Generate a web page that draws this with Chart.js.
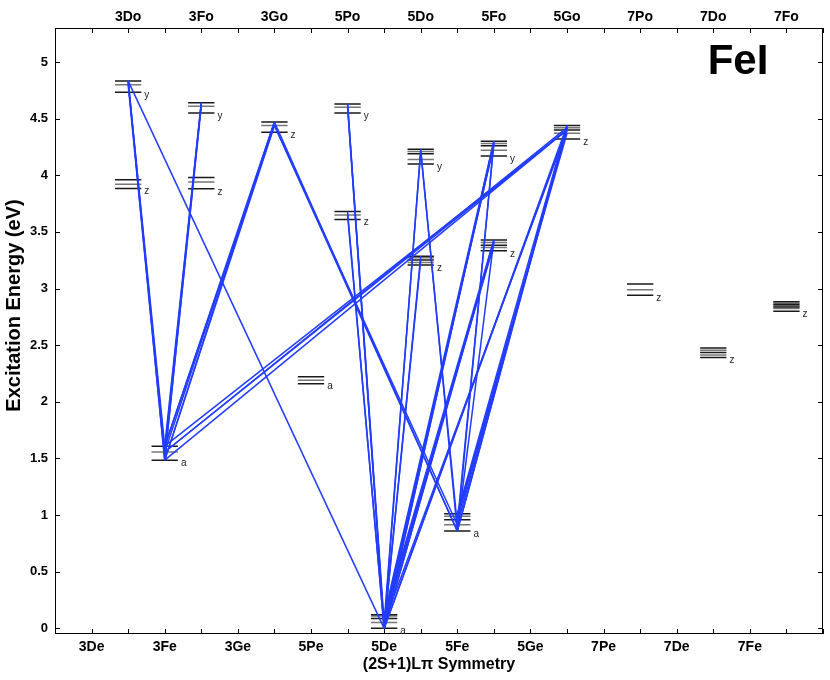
<!DOCTYPE html>
<html>
<head>
<meta charset="utf-8">
<script src="https://cdn.jsdelivr.net/npm/chart.js@4.4.0/dist/chart.umd.min.js"></script>
<style>
  html, body { margin: 0; padding: 0; background: #fff; }
  #wrap { width: 830px; height: 680px; }
</style>
</head>
<body>
<div id="wrap"><canvas id="grotrian" width="830" height="680"></canvas></div>
<script>
// axis labels: even parity terms sit on odd columns (bottom), odd parity on even columns (top)
const bottomLabels = ['3De', '3Fe', '3Ge', '5Pe', '5De', '5Fe', '5Ge', '7Pe', '7De', '7Fe'];
const topLabels = ['3Do', '3Fo', '3Go', '5Po', '5Do', '5Fo', '5Go', '7Po', '7Do', '7Fo'];
const yTicks = [0, 0.5, 1, 1.5, 2, 2.5, 3, 3.5, 4, 4.5, 5];

// terms: id, column, prefix letter, fine-structure level energies (eV)
const termId  = ['a3F', 'y3D', 'z3D', 'y3F', 'z3F', 'z3G', 'a5P', 'y5P', 'z5P', 'a5D',
                 'y5D', 'z5D', 'a5F', 'y5F', 'z5F', 'z5G', 'z7P', 'z7D', 'z7F'];
const termCol = [3, 2, 2, 4, 4, 6, 7, 8, 8, 9, 10, 10, 11, 12, 12, 14, 16, 18, 20];
const termTag = ['a', 'y', 'z', 'y', 'z', 'z', 'a', 'y', 'z', 'a',
                 'y', 'z', 'a', 'y', 'z', 'z', 'z', 'z', 'z'];
const termE = [
  [1.485, 1.557, 1.608],
  [4.733, 4.800, 4.833],
  [3.883, 3.920, 3.960],
  [4.550, 4.610, 4.640],
  [3.880, 3.940, 3.980],
  [4.380, 4.440, 4.470],
  [2.160, 2.190, 2.220],
  [4.550, 4.600, 4.630],
  [3.610, 3.650, 3.680],
  [0.000, 0.052, 0.087, 0.110, 0.121],
  [4.100, 4.140, 4.190, 4.210, 4.230],
  [3.207, 3.230, 3.251, 3.271, 3.286],
  [0.859, 0.915, 0.958, 0.990, 1.011],
  [4.170, 4.220, 4.260, 4.280, 4.300],
  [3.333, 3.363, 3.383, 3.407, 3.428],
  [4.320, 4.370, 4.400, 4.420, 4.440],
  [2.940, 2.990, 3.040],
  [2.391, 2.414, 2.435, 2.456, 2.476],
  [2.800, 2.824, 2.836, 2.848, 2.860, 2.871, 2.883]
];

// transitions: [lower term, level index, upper term, level index]
const transitions = [
  ['a3F', 0, 'y3D', 2], ['a3F', 1, 'y3D', 2], ['a3F', 0, 'y3D', 1], ['a3F', 2, 'y3D', 2],
  ['a3F', 0, 'y3F', 2], ['a3F', 1, 'y3F', 2], ['a3F', 0, 'y3F', 1], ['a3F', 2, 'y3F', 2],
  ['a3F', 0, 'z3G', 2], ['a3F', 1, 'z3G', 2], ['a3F', 2, 'z3G', 1], ['a3F', 0, 'z3G', 1], ['a3F', 2, 'z3G', 2],
  ['a3F', 0, 'z5G', 2], ['a3F', 1, 'z5G', 2], ['a3F', 2, 'z5G', 2], ['a3F', 1, 'z5G', 3],
  ['a5D', 0, 'y3D', 2],
  ['a5F', 0, 'z3G', 2], ['a5F', 0, 'z3G', 1], ['a5F', 1, 'z3G', 1],
  ['a5D', 0, 'y5P', 2], ['a5D', 1, 'y5P', 2], ['a5D', 0, 'y5P', 1],
  ['a5D', 0, 'z5P', 2], ['a5D', 0, 'z5P', 1],
  ['a5D', 0, 'y5D', 4], ['a5D', 1, 'y5D', 3],
  ['a5F', 0, 'y5D', 4], ['a5F', 1, 'y5D', 3],
  ['a5D', 0, 'z5D', 4], ['a5D', 0, 'z5D', 2],
  ['a5D', 0, 'y5F', 4], ['a5D', 1, 'y5F', 3], ['a5D', 2, 'y5F', 2], ['a5D', 0, 'y5F', 3], ['a5D', 3, 'y5F', 4],
  ['a5F', 0, 'y5F', 4], ['a5F', 1, 'y5F', 3],
  ['a5D', 0, 'z5F', 4], ['a5D', 1, 'z5F', 3], ['a5D', 2, 'z5F', 2], ['a5D', 0, 'z5F', 3], ['a5D', 3, 'z5F', 4],
  ['a5F', 0, 'z5F', 4],
  ['a5F', 0, 'z5G', 4], ['a5F', 1, 'z5G', 3], ['a5F', 2, 'z5G', 2], ['a5F', 3, 'z5G', 1], ['a5F', 0, 'z5G', 3], ['a5F', 4, 'z5G', 4],
  ['a5D', 0, 'z5G', 4], ['a5D', 0, 'z5G', 3], ['a5D', 1, 'z5G', 2]
];

const HALF = 0.36; // half length of a level bar, in column units
const FONT = '"Liberation Sans", Arial, sans-serif';

function term(id) {
  const i = termId.indexOf(id);
  return { col: termCol[i], e: termE[i] };
}

// level bars, split into dark and grey sets
const darkLevels = [], greyLevels = [];
termId.forEach((id, i) => {
  termE[i].forEach((e, k) => {
    const target = (k % 2 === 0) ? darkLevels : greyLevels;
    target.push({ x: termCol[i] - HALF, y: e }, { x: termCol[i] + HALF, y: e }, { x: termCol[i], y: null });
  });
});

const lineSets = transitions.map(t => {
  const lo = term(t[0]), up = term(t[2]);
  return {
    data: [{ x: lo.col, y: lo.e[t[1]] }, { x: up.col, y: up.e[t[3]] }],
    showLine: true,
    borderColor: 'rgb(34,60,255)',
    borderWidth: 1.5,
    pointRadius: 0,
    order: 0
  };
});

const levelSets = [
  { data: darkLevels, showLine: true, spanGaps: false, borderColor: '#1a1a1a', borderWidth: 1.5, pointRadius: 0, order: 1 },
  { data: greyLevels, showLine: true, spanGaps: false, borderColor: '#777', borderWidth: 1.5, pointRadius: 0, order: 1 }
];

const colTicks = [];
for (let c = 0; c <= 21; c++) colTicks.push(c);

const decorations = {
  id: 'decorations',
  afterDraw(chart) {
    const ctx = chart.ctx;
    const a = chart.chartArea;
    const xs = chart.scales.x, ys = chart.scales.y;
    ctx.save();
    ctx.strokeStyle = '#000';
    ctx.lineWidth = 1;
    ctx.strokeRect(a.left + 0.5, a.top + 0.5, a.right - a.left - 1, a.bottom - a.top - 1);
    ctx.beginPath();
    colTicks.forEach(c => {
      const px = Math.round(xs.getPixelForValue(c)) + 0.5;
      ctx.moveTo(px, a.bottom); ctx.lineTo(px, a.bottom - 5);
      ctx.moveTo(px, a.top); ctx.lineTo(px, a.top + 5);
    });
    yTicks.forEach(v => {
      const py = Math.round(ys.getPixelForValue(v)) + 0.5;
      ctx.moveTo(a.left, py); ctx.lineTo(a.left + 5, py);
      ctx.moveTo(a.right, py); ctx.lineTo(a.right - 5, py);
    });
    ctx.stroke();

    // term prefix letters
    ctx.fillStyle = '#222';
    ctx.font = '10px ' + FONT;
    ctx.textAlign = 'left';
    ctx.textBaseline = 'middle';
    termId.forEach((id, i) => {
      const px = xs.getPixelForValue(termCol[i] + HALF) + 3;
      const py = ys.getPixelForValue(Math.min(...termE[i])) + 3;
      ctx.fillText(termTag[i], px, py);
    });

    // y axis title, sits a little above the middle of the axis
    ctx.save();
    ctx.translate(14, ys.getPixelForValue(2.85));
    ctx.rotate(-Math.PI / 2);
    ctx.fillStyle = '#000';
    ctx.font = 'bold 20px ' + FONT;
    ctx.textAlign = 'center';
    ctx.textBaseline = 'middle';
    ctx.fillText('Excitation Energy (eV)', 0, 0);
    ctx.restore();

    ctx.fillStyle = '#000';
    ctx.font = 'bold 42px ' + FONT;
    ctx.textAlign = 'center';
    ctx.textBaseline = 'alphabetic';
    ctx.fillText('FeI', a.right - 85, a.top + 46);
    ctx.restore();
  }
};

new Chart(document.getElementById('grotrian'), {
  type: 'scatter',
  data: { datasets: lineSets.concat(levelSets) },
  options: {
    responsive: false,
    animation: false,
    layout: { padding: { left: 0, right: 7, top: 0, bottom: 0 } },
    plugins: { legend: { display: false }, tooltip: { enabled: false } },
    scales: {
      x: {
        type: 'linear', position: 'bottom', min: 0, max: 21,
        afterBuildTicks: s => { s.ticks = colTicks.map(v => ({ value: v })); },
        afterFit: s => { s.height = 46; },
        grid: { display: false, drawTicks: false },
        border: { display: false },
        ticks: {
          autoSkip: false, maxRotation: 0, padding: 5, color: '#000',
          font: { family: FONT, size: 14, weight: 'bold' },
          callback: v => (v % 2 === 1 ? bottomLabels[(v - 1) / 2] : '')
        },
        title: {
          display: true, text: '(2S+1)L\u03C0 Symmetry', color: '#000',
          font: { family: FONT, size: 16, weight: 'bold' },
          padding: { top: 0, bottom: 6 }
        }
      },
      x2: {
        type: 'linear', axis: 'x', position: 'top', min: 0, max: 21,
        afterBuildTicks: s => { s.ticks = colTicks.map(v => ({ value: v })); },
        afterFit: s => { s.height = 28; },
        grid: { display: false, drawTicks: false },
        border: { display: false },
        ticks: {
          autoSkip: false, maxRotation: 0, padding: 2, color: '#000',
          font: { family: FONT, size: 14, weight: 'bold' },
          callback: v => (v > 0 && v % 2 === 0 && v <= 20 ? topLabels[v / 2 - 1] : '')
        }
      },
      y: {
        type: 'linear', min: -0.05, max: 5.3,
        afterBuildTicks: s => { s.ticks = yTicks.map(v => ({ value: v })); },
        afterFit: s => { s.width = 55; },
        grid: { display: false, drawTicks: false },
        border: { display: false },
        ticks: {
          padding: 7, color: '#000',
          font: { family: FONT, size: 13, weight: 'bold' },
          callback: v => String(v)
        }
      }
    }
  },
  plugins: [decorations]
});
</script>
</body>
</html>
